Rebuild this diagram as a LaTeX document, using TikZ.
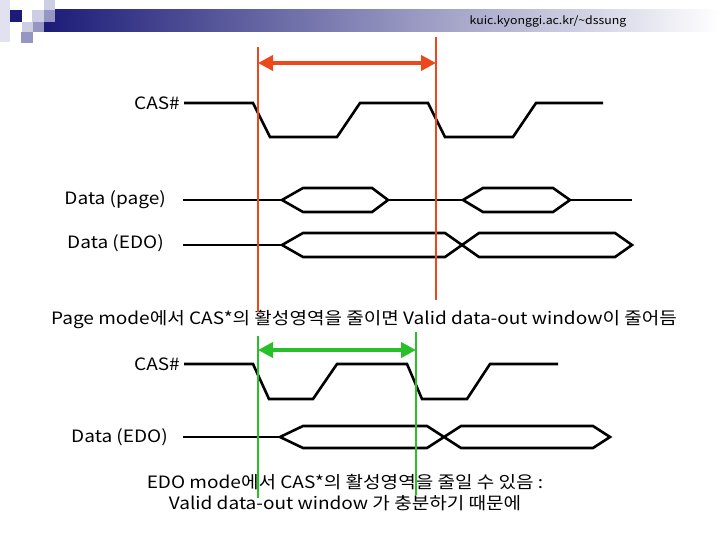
\documentclass[tikz,border=0pt]{standalone}
\usepackage{fontspec}
\setmainfont[FakeStretch=1.12]{Noto Sans CJK KR}
\usetikzlibrary{arrows.meta}
\definecolor{navybar}{RGB}{28,28,120}
\definecolor{sqlight}{RGB}{205,205,228}
\definecolor{sqmid}{RGB}{150,150,196}
\definecolor{markred}{RGB}{236,72,28}
\definecolor{markgreen}{RGB}{40,192,40}

\begin{document}
\begin{tikzpicture}[x=1pt,y=-1pt,
  wave/.style={line width=2.6pt,line join=miter},
  marker/.style={line width=2pt},
  span/.style={line width=4pt,{Triangle[length=15pt,width=15pt]}-{Triangle[length=15pt,width=15pt]}},
  signal/.style={anchor=east,inner sep=0pt,font=\fontsize{17}{20}\selectfont},
  note/.style={inner sep=0pt,align=center,font=\fontsize{17}{21}\selectfont}
]
\useasboundingbox (0,0) rectangle (720,540);

\shade[left color=navybar,right color=white] (44,10) rectangle (720,32);
\fill[sqlight!60] (0,0) rectangle (10,42);
\fill[navybar] (10,10) rectangle (22,22);
\fill[sqlight] (32,10) rectangle (44,22);
\fill[sqlight] (44,0) rectangle (55,10);
\fill[sqmid] (44,10) rectangle (55,22);
\fill[sqlight] (22,22) rectangle (33,32);
\fill[sqmid] (33,22) rectangle (44,32);
\fill[sqmid] (21,32) rectangle (33,43);
\node[inner sep=0pt,font=\fontsize{11}{12}\selectfont] (url) at (548,21) {kuic.kyonggi.ac.kr/\textasciitilde dssung};

\node[signal] (casTop) at (180,103) {CAS\#};
\node[signal] (dataPage) at (166,200) {Data (page)};
\node[signal] (dataEdo) at (164,243) {Data (EDO)};
\node[signal] (casBot) at (180,364) {CAS\#};
\node[signal] (dataEdoBot) at (168,437) {Data (EDO)};

\draw[wave] (184,103) -- (253,103) -- (270,137) -- (337,137) -- (360,103) -- (428,103)
  -- (445,137) -- (513,137) -- (536,103) -- (603,103);

\draw[wave] (183,200) -- (282,200) (388,200) -- (463,200) (570,200) -- (632,200);
\draw[wave] (282,200) -- (303,188) -- (372,188) -- (388,200) -- (372,212) -- (303,212) -- cycle;
\draw[wave] (463,200) -- (483,188) -- (553,188) -- (570,200) -- (553,212) -- (483,212) -- cycle;

\draw[wave] (183,245) -- (282,245);
\draw[wave] (282,245) -- (303,233) -- (445,233) -- (479,257) -- (615,257) -- (632,245)
  -- (615,233) -- (479,233) -- (445,257) -- (303,257) -- cycle;

\node[note] (pageNote) at (364,320) {Page mode에서 CAS*의 활성영역을 줄이면 Valid data-out window이 줄어듬};

\draw[wave] (184,364) -- (253,364) -- (269,399) -- (313,399) -- (337,364) -- (407,364)
  -- (422,399) -- (467,399) -- (490,364) -- (558,364);

\draw[wave] (183,437) -- (280,437);
\draw[wave] (280,437) -- (303,426) -- (427,426) -- (461,448) -- (593,448) -- (610,437)
  -- (593,426) -- (461,426) -- (427,448) -- (303,448) -- cycle;

\node[note] (edoNote) at (345,493) {EDO mode에서 CAS*의 활성영역을 줄일 수 있음 :\\Valid data-out window 가 충분하기 때문에};

\coordinate (redL) at (258,63);
\coordinate (redR) at (436,63);
\draw[marker,markred] (258,47) -- (258,312) (436,37) -- (436,300);
\draw[span,markred] (redL) -- (redR);

\coordinate (greenL) at (258,350);
\coordinate (greenR) at (416,350);
\draw[marker,markgreen] (258,336) -- (258,498) (416,332) -- (416,495);
\draw[span,markgreen] (greenL) -- (greenR);
\end{tikzpicture}
\end{document}
